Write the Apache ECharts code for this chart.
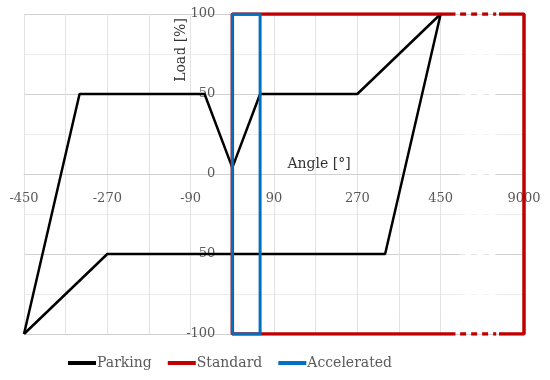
<!DOCTYPE html>
<html>
<head>
<meta charset="utf-8">
<script src="https://cdn.jsdelivr.net/npm/echarts@6/dist/echarts.min.js"></script>
<style>html,body{margin:0;background:#fff}#chart{width:550px;height:380px}</style>
</head>
<body>
<div id="chart"></div>
<script>
// data
const parkingAngle = [-450, -330, -60, 0, 60, 270, 450, 330, -270, -450];
const parkingLoad = [-100, 50, 50, 4, 50, 50, 100, -50, -50, -100];
const standardAngle = [0, 9000];
const standardLoad = [-100, 100];
const acceleratedAngle = [0, 60];
const acceleratedLoad = [-100, 100];
const xTickLabels = [-450, -270, -90, 90, 270, 450, 9000];
const yTickLabels = [-100, -50, 0, 50, 100];

// broken axis: everything past 450 is drawn at the last tick slot
const X_MIN = -450, LAST_SLOT = 630;
const BREAK_FROM = 490, BREAK_TO = 570;
const ax = v => (v > 450 ? LAST_SLOT : v);

const W = 550, H = 380;
const G = { left: 24, right: 26, top: 14, bottom: 46 };
const plotW = W - G.left - G.right, plotH = H - G.top - G.bottom;

const font = '"DejaVu Serif", serif';
const red = "#c00000", blue = "#0070c0";

const zip = (xs, ys) => xs.map((x, i) => [ax(x), ys[i]]);

const sx0 = ax(standardAngle[0]), sx1 = ax(standardAngle[1]);
const sy0 = standardLoad[0], sy1 = standardLoad[1];
const ax0 = acceleratedAngle[0], ax1 = acceleratedAngle[1];
const ay0 = acceleratedLoad[0], ay1 = acceleratedLoad[1];

// dashed grid lines inside the break zone
const gridLines = [];
for (let y = -75; y <= 75; y += 25) {
  const c = y % 50 === 0 ? "#cccccc" : "#e6e6e6";
  gridLines.push({ coords: [[BREAK_FROM, y], [BREAK_TO, y]], lineStyle: { color: c, type: [6, 6], width: 1 } });
}

const lineBase = { type: "line", symbol: "none", showSymbol: false, silent: true, animation: false };

// axes cross at zero: shift them in from the grid edges
const xOffset = -plotH * (0 - yTickLabels[0]) / (yTickLabels[yTickLabels.length - 1] - yTickLabels[0]);
const yOffset = -plotW * (0 - X_MIN) / (LAST_SLOT - X_MIN);

const chart = echarts.init(document.getElementById("chart"));
chart.setOption({
  animation: false,
  grid: { left: G.left, right: G.right, top: G.top, bottom: G.bottom, outerBoundsMode: "none", containLabel: false },
  xAxis: {
    type: "value",
    min: X_MIN,
    max: LAST_SLOT,
    interval: 180,
    offset: xOffset,
    axisLine: { show: true, onZero: false, lineStyle: { color: "#d0d0d0", width: 1 } },
    axisTick: { show: false },
    axisLabel: {
      margin: 18,
      color: "#595959",
      fontFamily: font,
      fontSize: 13,
      formatter: v => {
        const i = [-450, -270, -90, 90, 270, 450, LAST_SLOT].indexOf(v);
        return i >= 0 ? String(xTickLabels[i]) : "";
      }
    },
    splitLine: { lineStyle: { color: "#e3e3e3" } },
    minorTick: { show: false, splitNumber: 2 },
    minorSplitLine: { show: true, lineStyle: { color: "#e3e3e3" } }
  },
  yAxis: {
    type: "value",
    min: yTickLabels[0],
    max: yTickLabels[yTickLabels.length - 1],
    interval: 50,
    offset: yOffset,
    axisLine: { show: false, onZero: false },
    axisTick: { show: false },
    axisLabel: { margin: 17, color: "#595959", fontFamily: font, fontSize: 13 },
    splitLine: { lineStyle: { color: "#d0d0d0" } },
    minorTick: { show: false, splitNumber: 2 },
    minorSplitLine: { show: true, lineStyle: { color: "#ececec" } }
  },
  legend: {
    left: 63,
    top: 351,
    itemWidth: 28,
    itemHeight: 4,
    itemGap: 16,
    icon: "rect",
    data: ["Parking", "Standard", "Accelerated"],
    textStyle: { color: "#595959", fontFamily: font, fontSize: 14, padding: [0, 0, 0, -4] }
  },
  graphic: [
    { type: "text", x: 181, y: 50, rotation: Math.PI / 2,
      style: { text: "Load [%]", align: "center", verticalAlign: "middle", font: "14px " + font, fill: "#333" } },
    { type: "text", x: 319, y: 164,
      style: { text: "Angle [°]", align: "center", verticalAlign: "middle", font: "14px " + font, fill: "#333" } }
  ],
  series: [
    {
      ...lineBase, name: "cover", data: [], z: 1,
      markArea: { silent: true, z: 1, itemStyle: { color: "#fff" },
        data: [[{ coord: [BREAK_FROM, -99] }, { coord: [BREAK_TO, 99] }]] }
    },
    {
      type: "lines", name: "breakgrid", coordinateSystem: "cartesian2d", z: 2,
      silent: true, animation: false, data: gridLines
    },
    {
      ...lineBase, name: "Parking", z: 3,
      lineStyle: { color: "#000", width: 2.5 }, itemStyle: { color: "#000" },
      data: zip(parkingAngle, parkingLoad)
    },
    {
      ...lineBase, name: "Standard", z: 4,
      lineStyle: { color: red, width: 3.5 }, itemStyle: { color: red },
      data: [[BREAK_FROM - 8, sy1], [sx0, sy1], [sx0, sy0], [BREAK_FROM - 8, sy0]]
    },
    {
      ...lineBase, name: "Standard", z: 4,
      lineStyle: { color: red, width: 3.5 }, itemStyle: { color: red },
      data: [[BREAK_TO + 6, sy1], [sx1, sy1], [sx1, sy0], [BREAK_TO + 6, sy0]]
    },
    {
      ...lineBase, name: "Standard", z: 4,
      lineStyle: { color: red, width: 3.5, type: [6, 5] }, itemStyle: { color: red },
      data: [[BREAK_FROM + 2, sy1], [BREAK_TO, sy1]]
    },
    {
      ...lineBase, name: "Standard", z: 4,
      lineStyle: { color: red, width: 3.5, type: [6, 5] }, itemStyle: { color: red },
      data: [[BREAK_FROM + 2, sy0], [BREAK_TO, sy0]]
    },
    {
      ...lineBase, name: "Accelerated", z: 5,
      lineStyle: { color: blue, width: 3 }, itemStyle: { color: blue },
      data: [[ax0, ay0], [ax0, ay1], [ax1, ay1], [ax1, ay0], [ax0, ay0]]
    }
  ]
});
</script>
</body>
</html>
